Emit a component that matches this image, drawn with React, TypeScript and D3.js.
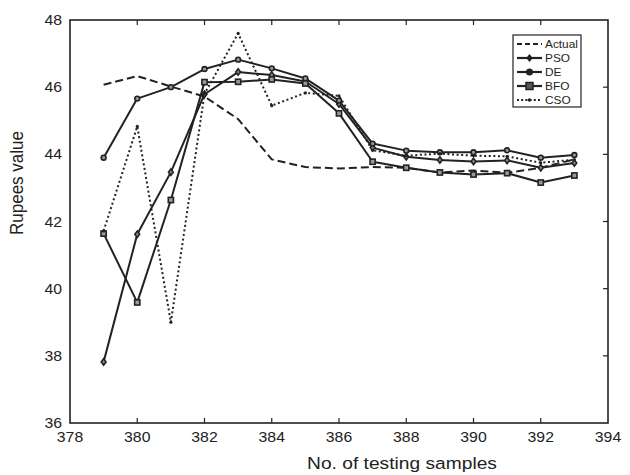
import React from "react";
import * as d3 from "d3";

const samples = [379, 380, 381, 382, 383, 384, 385, 386, 387, 388, 389, 390, 391, 392, 393];
const actual = [46.07, 46.33, 46.02, 45.72, 45.05, 43.85, 43.62, 43.58, 43.62, 43.6, 43.46, 43.52, 43.45, 43.6, 43.85];
const pso = [37.82, 41.62, 43.47, 45.79, 46.45, 46.36, 46.17, 45.5, 44.2, 43.93, 43.83, 43.79, 43.82, 43.6, 43.74];
const de = [43.9, 45.66, 46.0, 46.54, 46.82, 46.56, 46.26, 45.6, 44.32, 44.11, 44.06, 44.06, 44.12, 43.9, 43.98];
const bfo = [41.64, 39.59, 42.64, 46.15, 46.16, 46.23, 46.11, 45.22, 43.78, 43.6, 43.46, 43.4, 43.44, 43.16, 43.37];
const cso = [41.72, 44.83, 39.0, 45.8, 47.6, 45.45, 45.83, 45.74, 44.12, 43.96, 44.02, 43.96, 43.94, 43.75, 43.84];

const seriesNames = ["Actual", "PSO", "DE", "BFO", "CSO"];
const seriesData = [actual, pso, de, bfo, cso];
const xTicks = [378, 380, 382, 384, 386, 388, 390, 392, 394];
const yTicks = [36, 38, 40, 42, 44, 46, 48];

const W = 630, H = 475;
const L = 70, R = 608, T = 20, B = 423;
const INK = "#222";

const x = d3.scaleLinear().domain([378, 394]).range([L, R]);
const y = d3.scaleLinear().domain([36, 48]).range([B, T]);

const dashFor = (name: string) =>
  name === "Actual" ? "8,4" : name === "CSO" ? "2,2.6" : undefined;

function Marker({ name, cx, cy }: { name: string; cx: number; cy: number }) {
  if (name === "PSO") {
    const s = 3.2;
    return (
      <path
        d={`M${cx},${cy - s}L${cx + s * 0.75},${cy}L${cx},${cy + s}L${cx - s * 0.75},${cy}Z`}
        fill="#888"
        stroke={INK}
        strokeWidth={1.6}
      />
    );
  }
  if (name === "DE") {
    return <circle cx={cx} cy={cy} r={2.4} fill="#999" stroke={INK} strokeWidth={1.6} />;
  }
  if (name === "BFO") {
    return <rect x={cx - 2.6} y={cy - 2.6} width={5.2} height={5.2} fill="#999" stroke={INK} strokeWidth={1.6} />;
  }
  if (name === "CSO") {
    return <circle cx={cx} cy={cy} r={1.6} fill={INK} />;
  }
  return null;
}

function LegendMarker({ name, cx, cy }: { name: string; cx: number; cy: number }) {
  if (name === "PSO") {
    const s = 4;
    return <path d={`M${cx},${cy - s}L${cx + s * 0.8},${cy}L${cx},${cy + s}L${cx - s * 0.8},${cy}Z`} fill={INK} />;
  }
  if (name === "DE") return <circle cx={cx} cy={cy} r={3.5} fill={INK} />;
  if (name === "BFO")
    return <rect x={cx - 3.5} y={cy - 3.5} width={7} height={7} fill="#555" stroke={INK} strokeWidth={1.5} />;
  if (name === "CSO") return <circle cx={cx} cy={cy} r={1.8} fill={INK} />;
  return null;
}

export default function App() {
  const line = d3
    .line<number>()
    .x((_, i) => x(samples[i]))
    .y((d) => y(d));

  const font = "'Liberation Sans', Arial, Helvetica, sans-serif";
  const sx = 1.13;

  return (
    <svg
      width={W}
      height={H}
      style={{ position: "absolute", left: 0, top: 0, background: "#fff" }}
      fontFamily={font}
    >
      {seriesNames.map((name, k) => (
        <path
          key={name}
          d={line(seriesData[k]) || ""}
          fill="none"
          stroke={INK}
          strokeWidth={2}
          strokeDasharray={dashFor(name)}
          strokeLinejoin="round"
        />
      ))}
      {seriesNames.map((name, k) =>
        seriesData[k].map((v, i) => (
          <Marker key={name + i} name={name} cx={x(samples[i])} cy={y(v)} />
        ))
      )}

      <rect x={L} y={T} width={R - L} height={B - T} fill="none" stroke={INK} strokeWidth={1.6} />
      {xTicks.slice(1, -1).map((t) => (
        <g key={"xt" + t}>
          <line x1={x(t)} x2={x(t)} y1={B} y2={B - 5} stroke={INK} strokeWidth={1.2} />
          <line x1={x(t)} x2={x(t)} y1={T} y2={T + 5} stroke={INK} strokeWidth={1.2} />
        </g>
      ))}
      {yTicks.slice(1, -1).map((t) => (
        <line key={"yt" + t} x1={R} x2={R - 5} y1={y(t)} y2={y(t)} stroke={INK} strokeWidth={1.2} />
      ))}

      {xTicks.map((t) => (
        <text
          key={"xl" + t}
          transform={`translate(${x(t)},${B + 19}) scale(${sx},1)`}
          textAnchor="middle"
          fontSize={14}
          fill={INK}
        >
          {t}
        </text>
      ))}
      {yTicks.map((t) => (
        <text
          key={"yl" + t}
          transform={`translate(${L - 8},${y(t) + 5}) scale(${sx},1)`}
          textAnchor="end"
          fontSize={14}
          fill={INK}
        >
          {t}
        </text>
      ))}

      <text
        transform={`translate(${(304 + 500) / 2},469) scale(${sx},1)`}
        textAnchor="middle"
        fontSize={17}
        fill={INK}
      >
        No. of testing samples
      </text>
      <text
        transform={`translate(23,183) rotate(-90) scale(1,${sx})`}
        textAnchor="middle"
        fontSize={17}
        fill={INK}
      >
        Rupees value
      </text>

      <rect x={513} y={35} width={68} height={72} fill="#fff" stroke={INK} strokeWidth={1.2} />
      {seriesNames.map((name, i) => {
        const ly = 44 + i * 14;
        return (
          <g key={"lg" + name}>
            <line
              x1={517}
              x2={542}
              y1={ly}
              y2={ly}
              stroke={INK}
              strokeWidth={2.2}
              strokeDasharray={name === "Actual" ? "5,3" : name === "CSO" ? "2,2.2" : undefined}
            />
            <LegendMarker name={name} cx={529.5} cy={ly} />
            <text transform={`translate(545,${ly + 4}) scale(${sx},1)`} fontSize={10.5} fill={INK}>
              {name}
            </text>
          </g>
        );
      })}
    </svg>
  );
}
